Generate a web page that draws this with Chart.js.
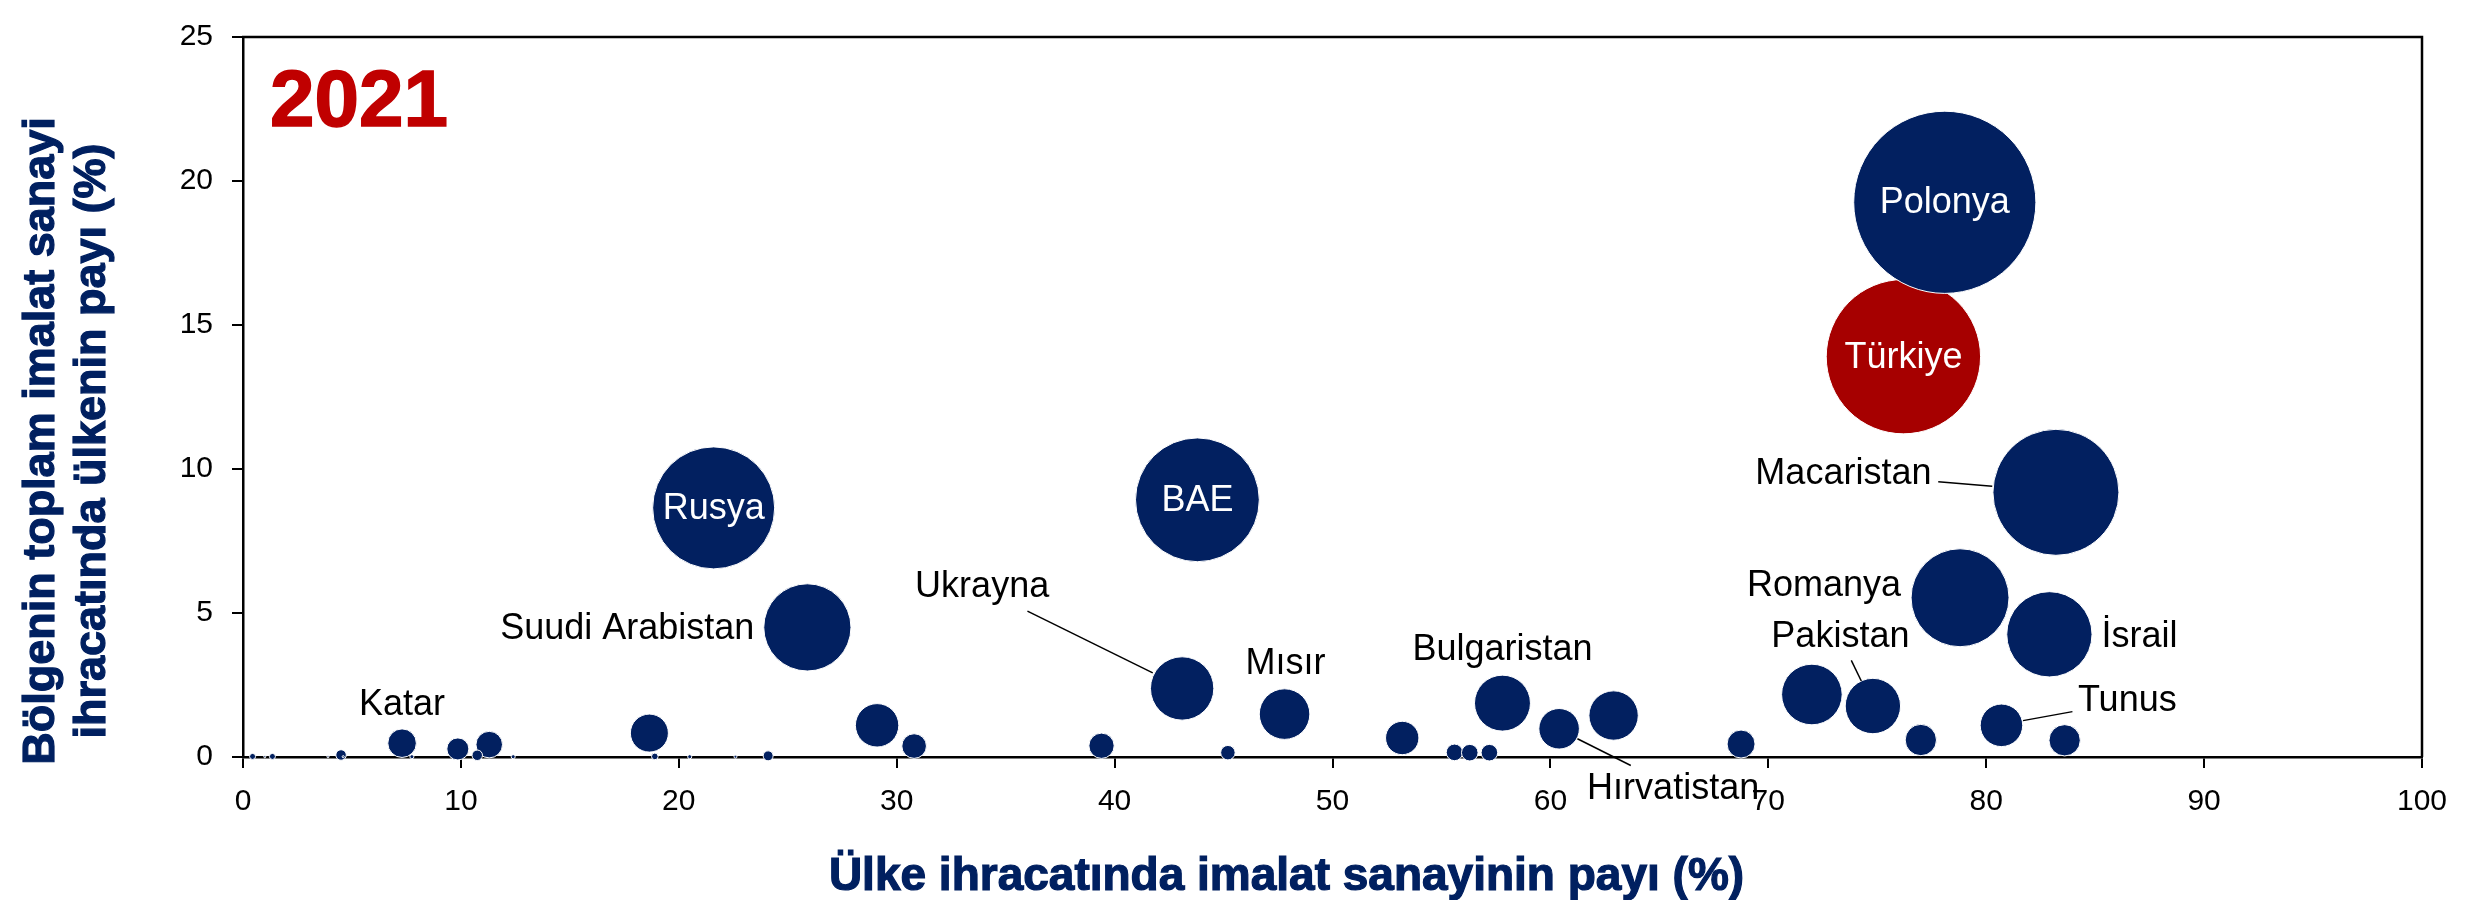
<!DOCTYPE html>
<html>
<head>
<meta charset="utf-8">
<script src="https://cdn.jsdelivr.net/npm/chart.js@4.4.0/dist/chart.umd.min.js"></script>
<style>
html,body{margin:0;padding:0;background:#ffffff;}
#wrap{width:2466px;height:900px;}
</style>
</head>
<body>
<div id="wrap"><canvas id="c" width="2466" height="900"></canvas></div>
<script>
// ---------------- DATA ----------------
const yearLabel = '2021';
const xTitle = 'Ülke ihracatında imalat sanayinin payı (%)';
const yTitle = ['Bölgenin toplam imalat sanayi', 'ihracatında ülkenin payı (%)'];
const xTicks = [0, 10, 20, 30, 40, 50, 60, 70, 80, 90, 100];
const yTicks = [0, 5, 10, 15, 20, 25];

const countries = ['', '', '', '', '', '', 'Katar', '', '', '', '', '', '', '', '', 'Rusya', '', '',
  'Suudi Arabistan', '', '', '', 'Ukrayna', 'BAE', '', 'Mısır', '', '', '', '', 'Bulgaristan',
  'Hırvatistan', '', '', '', 'Pakistan', 'Türkiye', '', 'Polonya', 'Romanya', 'Tunus', 'İsrail',
  'Macaristan', ''];
// Ülke ihracatında imalat sanayinin payı (%)
const manufShare = [0.44, 1.0, 1.35, 3.9, 4.5, 4.6, 7.3, 7.75, 9.86, 11.3, 10.75, 12.4, 18.65, 18.9,
  20.5, 21.6, 22.6, 24.1, 25.9, 29.1, 30.8, 39.4, 43.1, 43.8, 45.2, 47.8, 53.2, 55.6, 56.3, 57.2,
  57.8, 60.4, 62.9, 68.75, 72.0, 74.8, 76.2, 77.0, 78.1, 78.8, 80.7, 82.9, 83.2, 83.6];
// Bölgenin toplam imalat sanayi ihracatında ülkenin payı (%)
const regionShare = [0.02, 0.01, 0.02, 0.01, 0.07, 0.01, 0.48, 0.01, 0.28, 0.43, 0.06, 0.01, 0.83,
  0.02, 0.01, 8.65, 0.01, 0.04, 4.5, 1.10, 0.38, 0.39, 2.38, 8.93, 0.15, 1.49, 0.66, 0.16, 0.15,
  0.15, 1.87, 0.98, 1.44, 0.45, 2.17, 1.77, 13.9, 0.59, 19.26, 5.53, 1.10, 4.26, 9.19, 0.58];
// bubble size (export volume, relative)
const exportVolume = [0.33, 0.04, 0.33, 0.04, 1.0, 0.04, 7.4, 0.15, 4.4, 6.4, 1.0, 0.15, 13.1, 0.4,
  0.15, 135, 0.08, 0.9, 69, 17.1, 5.5, 5.8, 36.4, 139, 1.9, 23.2, 10.1, 2.5, 2.5, 2.5, 28.4, 14.9,
  22.1, 7.1, 33.3, 27.8, 216, 8.9, 301, 87, 16.4, 66, 144, 8.9];

// ---------------- STYLE ----------------
const NAVY = '#022060';
const RED_TR = '#A60000';
const BUBBLE_SCALE = 5.25;
const FONT = '"Liberation Sans", Arial, sans-serif';
const LABEL_SIZE = 36;

// label placement relative to bubble centre (px)
const labelStyle = {
  'Katar': {dx: 0, dy: -38.5, align: 'center'},
  'Suudi Arabistan': {dx: -53, dy: 2, align: 'right'},
  'Rusya': {dx: 0, dy: 1, align: 'center', color: '#ffffff'},
  'BAE': {dx: 0, dy: 1, align: 'center', color: '#ffffff'},
  'Ukrayna': {dx: -200, dy: -101, align: 'center'},
  'Mısır': {dx: 1, dy: -50, align: 'center'},
  'Bulgaristan': {dx: 0, dy: -53, align: 'center'},
  'Hırvatistan': {dx: 28, dy: 60.5, align: 'left'},
  'Macaristan': {dx: -124.5, dy: -18, align: 'right'},
  'Romanya': {dx: -59, dy: -11.5, align: 'right'},
  'Pakistan': {dx: -32.5, dy: -69, align: 'center'},
  'İsrail': {dx: 52, dy: 3, align: 'left'},
  'Tunus': {dx: 76.5, dy: -24, align: 'left'},
  'Polonya': {dx: 0, dy: 1, align: 'center', color: '#ffffff'},
  'Türkiye': {dx: 0, dy: 1, align: 'center', color: '#ffffff'}
};
const leaderLines = {
  'Ukrayna': [-154.7, -77.3, -29.4, -15.6],
  'Hırvatistan': [18.3, 10, 71.7, 36.7],
  'Macaristan': [-117.7, -10.5, -63.7, -6.1],
  'Pakistan': [-21.6, -45.7, -11.6, -25],
  'Tunus': [21.6, -4.7, 71, -13.7]
};

const points = manufShare.map((x, i) => ({x: x, y: regionShare[i], r: BUBBLE_SCALE * Math.sqrt(exportVolume[i])}));
const colors = countries.map(n => n === 'Türkiye' ? RED_TR : NAVY);

const framePlugin = {
  id: 'frame',
  afterDraw(chart) {
    const {ctx, chartArea: a} = chart;
    ctx.save();
    ctx.strokeStyle = '#000';
    ctx.lineWidth = 2.5;
    ctx.beginPath();
    ctx.moveTo(a.left - 1, a.top);
    ctx.lineTo(a.right, a.top);
    ctx.lineTo(a.right, a.bottom);
    ctx.stroke();
    ctx.restore();
  }
};

const labelPlugin = {
  id: 'bubbleLabels',
  afterDatasetsDraw(chart) {
    const {ctx} = chart;
    const meta = chart.getDatasetMeta(0);
    ctx.save();
    ctx.strokeStyle = '#000';
    ctx.lineWidth = 1.5;
    countries.forEach((name, i) => {
      const L = leaderLines[name];
      if (!L) return;
      const el = meta.data[i];
      ctx.beginPath();
      ctx.moveTo(el.x + L[0], el.y + L[1]);
      ctx.lineTo(el.x + L[2], el.y + L[3]);
      ctx.stroke();
    });
    ctx.font = LABEL_SIZE + 'px ' + FONT;
    ctx.textBaseline = 'middle';
    countries.forEach((name, i) => {
      const s = labelStyle[name];
      if (!s) return;
      const el = meta.data[i];
      ctx.fillStyle = s.color || '#000';
      ctx.textAlign = s.align;
      ctx.fillText(name, el.x + s.dx, el.y + s.dy);
    });
    ctx.restore();
  },
  afterDraw(chart) {
    const {ctx, chartArea: a} = chart;
    ctx.save();
    ctx.fillStyle = '#C00000';
    ctx.strokeStyle = '#C00000';
    ctx.lineWidth = 1.5;
    ctx.font = 'bold 80px ' + FONT;
    ctx.textAlign = 'left';
    ctx.textBaseline = 'alphabetic';
    ctx.fillText(yearLabel, a.left + 27, a.top + 89);
    ctx.strokeText(yearLabel, a.left + 27, a.top + 89);
    ctx.fillStyle = '#002060';
    ctx.strokeStyle = '#002060';
    ctx.lineWidth = 1.2;
    ctx.font = 'bold 46px ' + FONT;
    ctx.textAlign = 'center';
    ctx.fillText(xTitle, (a.left + a.right) / 2 - 46, 890);
    ctx.strokeText(xTitle, (a.left + a.right) / 2 - 46, 890);
    ctx.font = 'bold 45px ' + FONT;
    const cy = (a.top + a.bottom) / 2 + 44;
    const baseX = [54, 105];
    yTitle.forEach((line, k) => {
      ctx.save();
      ctx.translate(baseX[k], cy);
      ctx.rotate(-Math.PI / 2);
      ctx.textAlign = 'center';
      ctx.fillText(line, 0, 0);
      ctx.strokeText(line, 0, 0);
      ctx.restore();
    });
    ctx.restore();
  }
};

new Chart(document.getElementById('c'), {
  type: 'bubble',
  data: {
    datasets: [{
      data: points,
      backgroundColor: colors,
      borderColor: '#ffffff',
      borderWidth: 1,
      hoverBorderWidth: 1,
      hoverRadius: 0,
      clip: false
    }]
  },
  options: {
    responsive: false,
    animation: false,
    events: [],
    layout: {autoPadding: false, padding: {top: 24, right: 44, left: 0, bottom: 0}},
    plugins: {legend: {display: false}, tooltip: {enabled: false}},
    scales: {
      x: {
        type: 'linear', position: 'bottom', min: 0, max: 100, z: 1,
        afterFit: s => { s.height = 143; },
        afterBuildTicks: s => { s.ticks = xTicks.map(v => ({value: v})); },
        ticks: {color: '#000', font: {family: FONT, size: 30}, padding: 16, maxRotation: 0, autoSkip: false},
        grid: {display: true, drawOnChartArea: false, drawTicks: true, tickLength: 11, color: '#000', lineWidth: 2},
        border: {display: true, color: '#000', width: 2.5},
        title: {display: false}
      },
      y: {
        type: 'linear', position: 'left', min: 0, max: 25, z: 1,
        afterFit: s => { s.width = 243; },
        afterBuildTicks: s => { s.ticks = yTicks.map(v => ({value: v})); },
        ticks: {color: '#000', font: {family: FONT, size: 30}, padding: 19, autoSkip: false},
        grid: {display: true, drawOnChartArea: false, drawTicks: true, tickLength: 11, color: '#000', lineWidth: 2},
        border: {display: true, color: '#000', width: 2.5},
        title: {display: false}
      }
    }
  },
  plugins: [framePlugin, labelPlugin]
});
</script>
</body>
</html>
